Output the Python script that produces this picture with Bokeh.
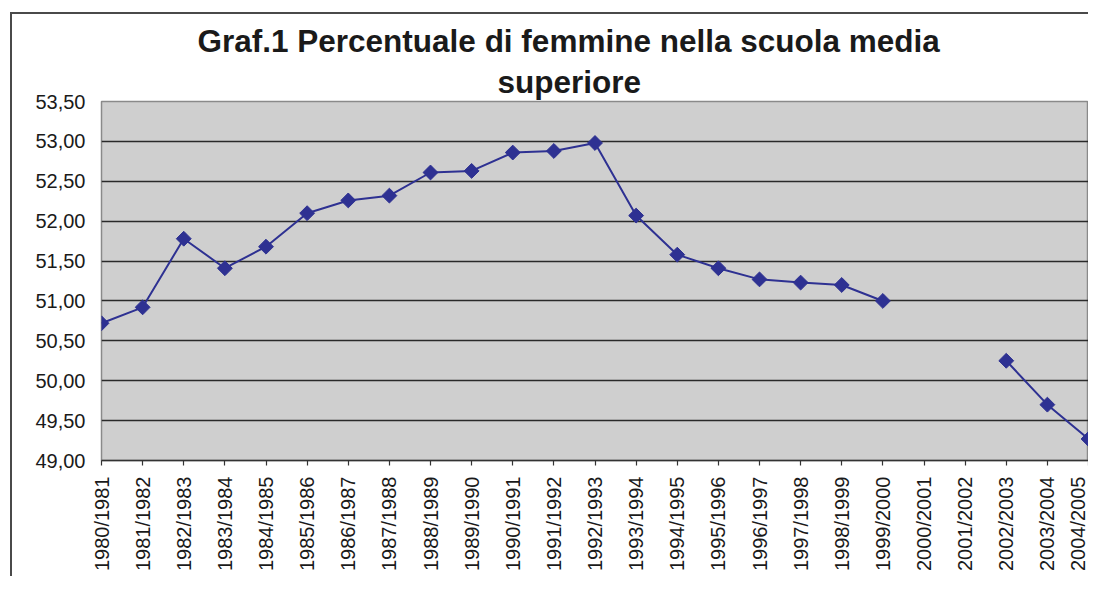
import math
from bokeh.plotting import figure
from bokeh.models import Range1d, FixedTicker, Title
from bokeh.embed import file_html
from bokeh.resources import INLINE

# ---- data ----
years = ["1980/1981", "1981/1982", "1982/1983", "1983/1984", "1984/1985",
         "1985/1986", "1986/1987", "1987/1988", "1988/1989", "1989/1990",
         "1990/1991", "1991/1992", "1992/1993", "1993/1994", "1994/1995",
         "1995/1996", "1996/1997", "1997/1998", "1998/1999", "1999/2000",
         "2000/2001", "2001/2002", "2002/2003", "2003/2004", "2004/2005"]
pct_female = [50.72, 50.92, 51.78, 51.41, 51.68,
              52.10, 52.26, 52.32, 52.61, 52.63,
              52.86, 52.88, 52.98, 52.07, 51.58,
              51.41, 51.27, 51.23, 51.20, 51.00,
              None, None, 50.25, 49.70, 49.27]
y_ticks = [49.0, 49.5, 50.0, 50.5, 51.0, 51.5, 52.0, 52.5, 53.0, 53.5]
title_line1 = "Graf.1 Percentuale di femmine nella scuola media"
title_line2 = "superiore"

xs = list(range(len(years)))
ys = [float("nan") if v is None else v for v in pct_female]

FONT = "Liberation Sans"
TXT = "#1a1a1a"
NAVY = "#2E3192"

p = figure(width=1088, height=576, output_backend="svg", toolbar_location=None,
           title=None, x_range=Range1d(0, len(years) - 1),
           y_range=Range1d(y_ticks[0], y_ticks[-1]))
p.min_border_left = 101
p.min_border_top = 101
p.min_border_bottom = 116
p.min_border_right = 0

p.background_fill_color = "#CFCFCF"
p.border_fill_color = None
# chart-area frame (left and top edges) drawn behind the transparent border
p.styles = {"background": "linear-gradient(#4a4a4a,#4a4a4a) 10px 12px / 2px 100% no-repeat, "
                          "linear-gradient(#4a4a4a,#4a4a4a) 10px 12px / 100% 2px no-repeat, white"}
p.outline_line_color = "#8a8a8a"
p.outline_line_width = 1.5

# grid
p.xgrid.grid_line_color = None
p.ygrid.ticker = FixedTicker(ticks=y_ticks)
p.ygrid.grid_line_color = "#2a2a2a"
p.ygrid.grid_line_width = 1.3

# y axis
p.yaxis.ticker = FixedTicker(ticks=y_ticks)
p.yaxis.major_label_overrides = {t: f"{t:.2f}".replace(".", ",") for t in y_ticks}
p.yaxis.axis_line_color = None
p.yaxis.major_tick_line_color = None
p.yaxis.minor_tick_line_color = None
p.yaxis.major_tick_out = 0
p.yaxis.major_label_standoff = 16
p.yaxis.major_label_text_font = FONT
p.yaxis.major_label_text_font_size = "20px"
p.yaxis.major_label_text_color = TXT

# x axis
p.xaxis.ticker = FixedTicker(ticks=xs)
p.xaxis.major_label_overrides = {i: y for i, y in zip(xs, years)}
p.xaxis.major_label_orientation = math.pi / 2
p.xaxis.axis_line_color = "#333333"
p.xaxis.axis_line_width = 1.5
p.xaxis.major_tick_line_color = "#333333"
p.xaxis.major_tick_line_width = 1.2
p.xaxis.major_tick_out = 5
p.xaxis.major_tick_in = 0
p.xaxis.minor_tick_line_color = None
p.xaxis.major_label_standoff = 11
p.xaxis.major_label_text_font = FONT
p.xaxis.major_label_text_font_size = "20px"
p.xaxis.major_label_text_color = TXT

# series
p.line(xs, ys, line_color=NAVY, line_width=2)
p.scatter(xs, ys, marker="square", angle=math.pi / 4, size=10.5,
          fill_color=NAVY, line_color=NAVY)

# title: two lines, second added first so it sits next to the frame
p.add_layout(Title(text=title_line2, align="left", offset=396, standoff=4,
                   text_font=FONT, text_font_style="bold", text_font_size="31.5px",
                   text_color=TXT), "above")
p.add_layout(Title(text=title_line1, align="left", offset=96, standoff=2,
                   text_font=FONT, text_font_style="bold", text_font_size="31.5px",
                   text_color=TXT), "above")

open("out.html", "w").write(file_html(p, INLINE))
